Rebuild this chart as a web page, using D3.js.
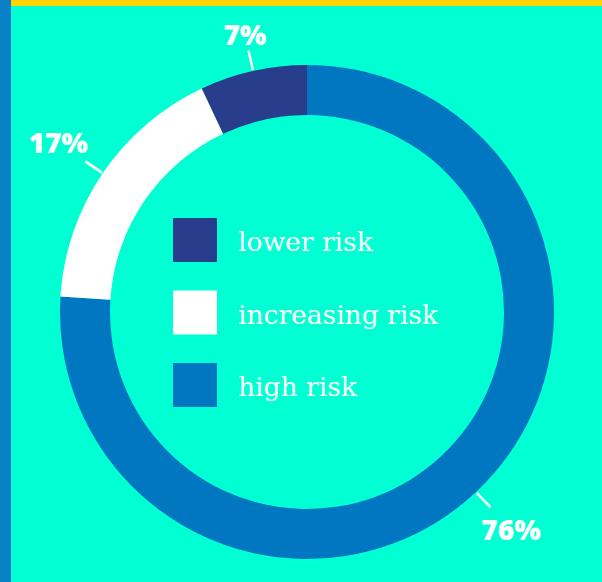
<!DOCTYPE html>
<html>
<head>
<meta charset="utf-8">
<script src="https://cdn.jsdelivr.net/npm/d3@7"></script>
<style>
  html, body { margin: 0; padding: 0; background: #00ffd2; }
  svg { display: block; }
</style>
</head>
<body>
<div id="chart"></div>
<script>
// Chart data
const categories = ["high risk", "increasing risk", "lower risk"];
const values = [76, 17, 7];
const colors = ["#0077c0", "#ffffff", "#283d8b"];
const legendOrder = ["lower risk", "increasing risk", "high risk"];

const width = 602, height = 582;
const cx = 307, cy = 312;
const outerR = 247, innerR = 197;

const svg = d3.select("#chart")
    .append("svg")
    .attr("width", width)
    .attr("height", height);

// Background and frame stripes
svg.append("rect").attr("width", width).attr("height", height).attr("fill", "#00ffd2");
svg.append("rect").attr("x", 0).attr("y", 0).attr("width", 11).attr("height", height).attr("fill", "#0a80c8");
svg.append("rect").attr("x", 11).attr("y", 0).attr("width", width - 11).attr("height", 6).attr("fill", "#ffd400");

const color = d3.scaleOrdinal().domain(categories).range(colors);

const pie = d3.pie().sort(null).value(d => d.value);
const data = pie(categories.map((c, i) => ({ name: c, value: values[i] })));

const arc = d3.arc().innerRadius(innerR).outerRadius(outerR);

const g = svg.append("g").attr("transform", `translate(${cx},${cy})`);

g.selectAll("path.slice")
    .data(data)
    .enter()
    .append("path")
    .attr("class", "slice")
    .attr("d", arc)
    .attr("fill", d => color(d.data.name));

// Leader lines and percentage labels
data.forEach(d => {
    const a = (d.startAngle + d.endAngle) / 2;
    const dx = Math.sin(a), dy = -Math.cos(a);
    g.append("line")
        .attr("x1", dx * (outerR + 1)).attr("y1", dy * (outerR + 1))
        .attr("x2", dx * (outerR + 21)).attr("y2", dy * (outerR + 21))
        .attr("stroke", "#fff")
        .attr("stroke-width", 2.5);

    const t = g.append("text")
        .attr("fill", "#fff")
        .attr("font-family", "'Open Sans', sans-serif")
        .attr("font-weight", 800)
        .attr("font-size", 28)
        .attr("text-anchor", "middle")
        .text(d.data.value + "%");
    const bb = t.node().getBBox();
    const off = Math.abs(dx) * bb.width / 2 + Math.abs(dy) * 9 + 3;
    const r = outerR + 21 + off;
    t.attr("x", dx * r).attr("y", dy * r + 10.5);
});

// Legend
const legend = svg.append("g").attr("transform", "translate(173,218)");
const item = legend.selectAll("g")
    .data(legendOrder)
    .enter()
    .append("g")
    .attr("transform", (d, i) => `translate(0,${i * 72.5})`);

item.append("rect")
    .attr("width", 44)
    .attr("height", 44)
    .attr("fill", d => color(d));

item.append("text")
    .attr("x", 65)
    .attr("y", 33)
    .attr("fill", "#fff")
    .attr("font-family", "'DejaVu Serif', serif")
    .attr("font-weight", 300)
    .attr("font-size", 26.5)
    .text(d => d);
</script>
</body>
</html>
